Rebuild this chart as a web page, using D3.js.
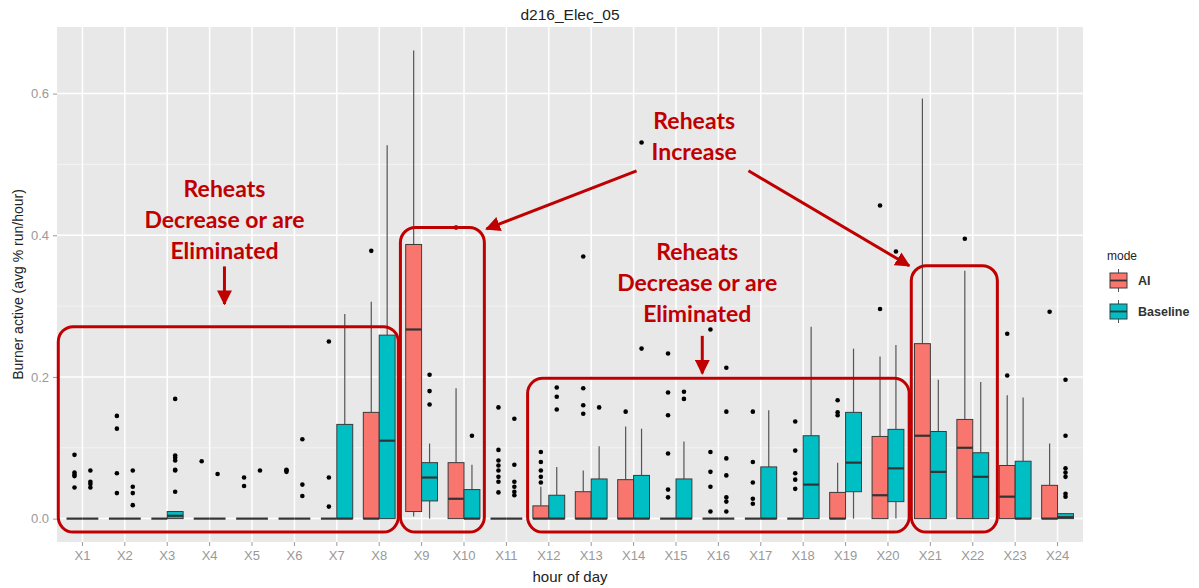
<!DOCTYPE html>
<html>
<head>
<meta charset="utf-8">
<script src="https://cdn.jsdelivr.net/npm/d3@7"></script>
<style>
  body { margin: 0; background: #fff; }
</style>
</head>
<body>
<div id="chart"></div>
<script>
const hours = d3.range(1, 25).map(d => "X" + d);
const modes = ["AI", "Baseline"];
const yTicks = [0, 0.2, 0.4, 0.6];

// [lower whisker, q1, median, q3, upper whisker]
const aiStats = [
  [0, 0, 0, 0, 0], [0, 0, 0, 0, 0], [0, 0, 0, 0, 0], [0, 0, 0, 0, 0],
  [0, 0, 0, 0, 0], [0, 0, 0, 0, 0], [0, 0, 0, 0, 0], [0, 0, 0, 0.150, 0.306],
  [0.003, 0.010, 0.267, 0.387, 0.661], [0, 0, 0.028, 0.079, 0.184], [0, 0, 0, 0, 0], [0, 0, 0, 0.018, 0.045],
  [0, 0, 0, 0.038, 0.068], [0, 0, 0, 0.055, 0.130], [0, 0, 0, 0, 0], [0, 0, 0, 0, 0],
  [0, 0, 0, 0, 0], [0, 0, 0, 0, 0], [0, 0, 0, 0.037, 0.079], [0, 0, 0.033, 0.116, 0.229],
  [0, 0, 0.117, 0.247, 0.593], [0, 0, 0.100, 0.140, 0.350], [0, 0, 0.031, 0.075, 0.174], [0, 0, 0, 0.047, 0.106]
];
const baseStats = [
  [0, 0, 0, 0, 0], [0, 0, 0, 0, 0], [0, 0, 0.004, 0.010, 0.010], [0, 0, 0, 0, 0],
  [0, 0, 0, 0, 0], [0, 0, 0, 0, 0], [0, 0, 0, 0.133, 0.289], [0, 0, 0.110, 0.259, 0.527],
  [0, 0.025, 0.058, 0.079, 0.106], [0, 0, 0, 0.041, 0.076], [0, 0, 0, 0, 0], [0, 0, 0, 0.033, 0.073],
  [0, 0, 0, 0.056, 0.102], [0, 0, 0, 0.061, 0.127], [0, 0, 0, 0.056, 0.109], [0, 0, 0, 0, 0],
  [0, 0, 0, 0.073, 0.153], [0, 0, 0.048, 0.117, 0.271], [0, 0.038, 0.079, 0.150, 0.240], [0, 0.024, 0.071, 0.126, 0.245],
  [0, 0, 0.066, 0.123, 0.196], [0, 0, 0.059, 0.093, 0.193], [0, 0, 0, 0.081, 0.171], [0, 0, 0.002, 0.007, 0.007]
];
const aiOutliers = [
  [0.090, 0.065, 0.062, 0.060, 0.044], [0.145, 0.127, 0.064, 0.036], [], [0.081],
  [0.058, 0.046], [0.069, 0.068, 0.066], [0.250, 0.058, 0.017], [0.378],
  [], [0.411], [0.157, 0.097, 0.082, 0.075, 0.068, 0.059, 0.052, 0.037], [0.094, 0.080, 0.068, 0.059, 0.051],
  [0.370, 0.184, 0.160, 0.148], [0.151], [0.233, 0.178, 0.146, 0.092, 0.041, 0.030], [0.267, 0.094, 0.066, 0.045, 0.010],
  [0.151, 0.080, 0.051, 0.028, 0.021], [0.137, 0.096, 0.064, 0.055, 0.042], [0.167, 0.150, 0.146], [0.442, 0.296],
  [], [0.395], [0.261, 0.202], [0.292]
];
const baseOutliers = [
  [0.068, 0.052, 0.049, 0.044], [0.068, 0.045, 0.036, 0.019], [0.169, 0.089, 0.086, 0.082, 0.069, 0.068, 0.038], [0.063],
  [0.068], [0.112, 0.048, 0.032], [], [],
  [0.203, 0.180, 0.161], [0.117], [0.141, 0.076, 0.052, 0.045, 0.038, 0.033], [0.185, 0.172, 0.154],
  [0.157], [0.531, 0.240], [0.179, 0.169], [0.213, 0.151, 0.085, 0.061, 0.030, 0.024, 0.010],
  [], [], [], [0.377],
  [], [], [], [0.196, 0.117, 0.071, 0.065, 0.059, 0.035, 0.031]
];

const width = 1199;
const height = 588;
const panel = { left: 57, right: 1083, top: 27, bottom: 542 };
const colors = { AI: "#F8766D", Baseline: "#00BFC4" };
const red = "#C00000";

const svg = d3.select("#chart")
  .append("svg")
  .attr("width", width)
  .attr("height", height)
  .style("font-family", "'Liberation Sans', Arial, sans-serif");

const x = d3.scaleBand()
  .domain(hours)
  .range([panel.left, panel.right])
  .paddingInner(0)
  .paddingOuter(0.1);

const y = d3.scaleLinear()
  .domain([-0.033, 0.694])
  .range([panel.bottom, panel.top]);

const step = x.step();
const center = h => x(h) + x.bandwidth() / 2;
// continuous hour position (1 = X1) for the annotations
const hx = d3.scaleLinear().domain([1, 24]).range([center(hours[0]), center(hours[23])]);

// panel background + grid
svg.append("rect")
  .attr("x", panel.left).attr("y", panel.top)
  .attr("width", panel.right - panel.left).attr("height", panel.bottom - panel.top)
  .attr("fill", "#E8E8E8");

svg.append("g").selectAll("line")
  .data([0.1, 0.3, 0.5])
  .join("line")
    .attr("x1", panel.left).attr("x2", panel.right)
    .attr("y1", d => y(d)).attr("y2", d => y(d))
    .attr("stroke", "#F5F5F5").attr("stroke-width", 0.8);

svg.append("g").selectAll("line")
  .data(yTicks)
  .join("line")
    .attr("x1", panel.left).attr("x2", panel.right)
    .attr("y1", d => y(d)).attr("y2", d => y(d))
    .attr("stroke", "#fff").attr("stroke-width", 1.5);

svg.append("g").selectAll("line")
  .data(hours)
  .join("line")
    .attr("x1", d => center(d)).attr("x2", d => center(d))
    .attr("y1", panel.top).attr("y2", panel.bottom)
    .attr("stroke", "#fff").attr("stroke-width", 1.5);

// boxes
const boxW = step * 0.375;
const rows = [];
hours.forEach((h, i) => {
  modes.forEach((m, j) => {
    const s = m === "AI" ? aiStats[i] : baseStats[i];
    const out = m === "AI" ? aiOutliers[i] : baseOutliers[i];
    rows.push({ hour: h, mode: m, cx: center(h) + (j === 0 ? -boxW / 2 : boxW / 2),
      lo: s[0], q1: s[1], med: s[2], q3: s[3], hi: s[4], out: out });
  });
});

const boxes = svg.append("g").selectAll("g")
  .data(rows)
  .join("g");

boxes.append("line")
  .attr("x1", d => d.cx).attr("x2", d => d.cx)
  .attr("y1", d => y(d.q3)).attr("y2", d => y(d.hi))
  .attr("stroke", "#555").attr("stroke-width", 1.2);

boxes.append("line")
  .attr("x1", d => d.cx).attr("x2", d => d.cx)
  .attr("y1", d => y(d.q1)).attr("y2", d => y(d.lo))
  .attr("stroke", "#555").attr("stroke-width", 1.2);

boxes.filter(d => d.q3 > d.q1)
  .append("rect")
    .attr("x", d => d.cx - boxW / 2)
    .attr("y", d => y(d.q3))
    .attr("width", boxW)
    .attr("height", d => y(d.q1) - y(d.q3))
    .attr("fill", d => colors[d.mode])
    .attr("stroke", "#3a3a3a").attr("stroke-width", 1);

boxes.append("line")
  .attr("x1", d => d.cx - boxW / 2).attr("x2", d => d.cx + boxW / 2)
  .attr("y1", d => y(d.med)).attr("y2", d => y(d.med))
  .attr("stroke", "#333").attr("stroke-width", 2.2);

boxes.selectAll("circle")
  .data(d => d.out.map(v => ({ cx: d.cx, v: v })))
  .join("circle")
    .attr("cx", d => d.cx)
    .attr("cy", d => y(d.v))
    .attr("r", 2.3)
    .attr("fill", "#000");

// axes
const xAxis = svg.append("g")
  .attr("transform", `translate(0,${panel.bottom})`)
  .call(d3.axisBottom(x).tickSize(4).tickPadding(5));
const yAxis = svg.append("g")
  .attr("transform", `translate(${panel.left},0)`)
  .call(d3.axisLeft(y).tickValues(yTicks).tickFormat(d3.format(".1f")).tickSize(4).tickPadding(4));
[xAxis, yAxis].forEach(g => {
  g.select(".domain").remove();
  g.selectAll(".tick line").attr("stroke", "#999");
  g.selectAll("text").attr("fill", "#999").attr("font-size", 13)
    .style("font-family", "'Liberation Sans', Arial, sans-serif");
});

svg.append("text")
  .attr("x", (panel.left + panel.right) / 2).attr("y", 20)
  .attr("text-anchor", "middle").attr("font-size", 15.5).attr("fill", "#222")
  .text("d216_Elec_05");

svg.append("text")
  .attr("x", (panel.left + panel.right) / 2).attr("y", 582)
  .attr("text-anchor", "middle").attr("font-size", 15).attr("fill", "#222")
  .text("hour of day");

svg.append("text")
  .attr("transform", `translate(23,${(panel.top + panel.bottom) / 2}) rotate(-90)`)
  .attr("text-anchor", "middle").attr("font-size", 14).attr("fill", "#222")
  .text("Burner active (avg % run/hour)");

// legend
const legend = svg.append("g").attr("transform", "translate(1107,0)");
legend.append("text").attr("x", 0).attr("y", 260).attr("font-size", 12).attr("fill", "#222").text("mode");
modes.forEach((m, i) => {
  const ky = 272 + i * 31;
  const g = legend.append("g").attr("transform", `translate(3,${ky})`);
  g.append("line").attr("x1", 8.5).attr("x2", 8.5).attr("y1", -3).attr("y2", 20).attr("stroke", "#555");
  g.append("rect").attr("x", 0).attr("y", 1).attr("width", 17).attr("height", 15)
    .attr("fill", colors[m]).attr("stroke", "#3a3a3a");
  g.append("line").attr("x1", 0).attr("x2", 17).attr("y1", 8.5).attr("y2", 8.5)
    .attr("stroke", "#333").attr("stroke-width", 1.8);
  g.append("text").attr("x", 28).attr("y", 13).attr("font-size", 12.5).attr("fill", "#333")
    .attr("font-weight", "bold").text(m);
});

// annotations (in hour / value units)
const frames = [
  { h0: 0.43, h1: 8.45, top: 0.271 },
  { h0: 8.5, h1: 10.48, top: 0.411 },
  { h0: 11.5, h1: 20.5, top: 0.198 },
  { h0: 20.55, h1: 22.58, top: 0.357 }
];
const frameBottom = -0.019;

const ann = svg.append("g");
ann.selectAll("rect")
  .data(frames)
  .join("rect")
    .attr("x", d => hx(d.h0)).attr("y", d => y(d.top))
    .attr("width", d => hx(d.h1) - hx(d.h0))
    .attr("height", d => y(frameBottom) - y(d.top))
    .attr("rx", 15)
    .attr("fill", "none").attr("stroke", red).attr("stroke-width", 3);

svg.append("defs").append("marker")
  .attr("id", "head")
  .attr("viewBox", "0 0 10 10")
  .attr("refX", 9).attr("refY", 5)
  .attr("markerWidth", 5).attr("markerHeight", 5)
  .attr("markerUnits", "strokeWidth")
  .attr("orient", "auto")
  .append("path").attr("d", "M0,0 L10,5 L0,10 Z").attr("fill", red);

const arrows = [
  { h0: 4.35, v0: 0.356, h1: 4.35, v1: 0.303 },
  { h0: 15.62, v0: 0.258, h1: 15.62, v1: 0.205 },
  { h0: 14.07, v0: 0.491, h1: 10.53, v1: 0.409 },
  { h0: 16.71, v0: 0.491, h1: 20.5, v1: 0.357 }
];
ann.selectAll("line")
  .data(arrows)
  .join("line")
    .attr("x1", d => hx(d.h0)).attr("y1", d => y(d.v0))
    .attr("x2", d => hx(d.h1)).attr("y2", d => y(d.v1))
    .attr("stroke", red).attr("stroke-width", 3)
    .attr("marker-end", "url(#head)");

const notes = [
  { h: 4.35, v: 0.466, lines: ["Reheats", "Decrease or are", "Eliminated"] },
  { h: 15.43, v: 0.562, lines: ["Reheats", "Increase"] },
  { h: 15.5, v: 0.377, lines: ["Reheats", "Decrease or are", "Eliminated"] }
];
notes.forEach(n => {
  ann.append("text")
    .attr("x", hx(n.h)).attr("y", y(n.v))
    .attr("text-anchor", "middle")
    .attr("font-family", "Lato, 'Open Sans', sans-serif")
    .attr("font-weight", "bold").attr("font-size", 23).attr("fill", red)
    .selectAll("tspan")
    .data(n.lines)
    .join("tspan")
      .attr("x", hx(n.h))
      .attr("dy", (d, i) => i === 0 ? "0.35em" : 31)
      .text(d => d);
});
</script>
</body>
</html>
